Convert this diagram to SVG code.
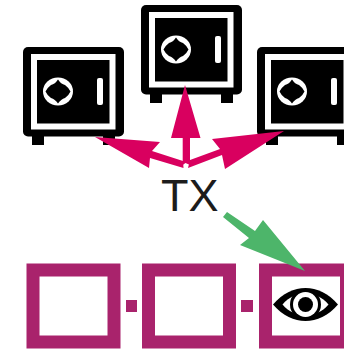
<svg xmlns="http://www.w3.org/2000/svg" width="344" height="350" viewBox="0 0 344 350">
<style>
.blk{fill:#000}
.wf{fill:#fff}
.pk{fill:#d9005f}
.cell{fill:none;stroke:#a9236c;stroke-width:13}
.dot{fill:#a9236c}
</style>
<defs>
<g id="safe">
<rect class="blk" x="23" y="47" width="101" height="89.500" rx="5"/>
<rect class="blk" x="32" y="134" width="12" height="11"/>
<rect class="blk" x="103" y="134" width="12" height="11"/>
<rect x="34" y="57" width="78.500" height="69.500" fill="none" stroke="#fff" stroke-width="6"/>
<ellipse class="wf" cx="58" cy="91.500" rx="15" ry="14"/>
<path class="blk" d="M58 79.500Q61 84 65 85Q69 88 70.500 91.500Q69 95 65 98Q61 99 58 103.500Q55 99 51 98Q47 95 45.500 91.500Q47 88 51 85Q55 84 58 79.500Z"/>
<rect class="wf" x="97" y="78" width="6" height="27" rx="2"/>
</g>
</defs>
<g id="safe-1"><use href="#safe"/></g>
<g id="safe-2"><use href="#safe" x="118" y="-42"/></g>
<g id="safe-3"><use href="#safe" x="234"/></g>
<g id="tx"><text x="161" y="210.500" font-family="'Liberation Sans',Arial,sans-serif" font-size="45" fill="#1c1c1c">TX</text></g>
<g id="block-1"><rect class="cell" x="33" y="270" width="81" height="72"/></g>
<rect id="link-1" class="dot" x="126" y="300" width="11" height="12"/>
<g id="block-2"><rect class="cell" x="148.500" y="270" width="81" height="72"/></g>
<rect id="link-2" class="dot" x="241" y="300" width="12" height="12"/>
<g id="block-3"><rect class="cell" x="265.500" y="270" width="81" height="72"/></g>
<g id="eye">
<path class="blk" d="M273 304.500C283 293 294 288 305.500 288C317 288 328 293 338 304.500C328 316 317 321 305.500 321C294 321 283 316 273 304.500Z"/>
<path class="wf" d="M282.500 304.500C289 297 297 293.500 305.500 293.500C314 293.500 322 297 328.500 304.500C322 312 314 315.500 305.500 315.500C297 315.500 289 312 282.500 304.500Z"/>
<circle class="blk" cx="305.500" cy="304.500" r="15.500"/>
<circle class="wf" cx="305.500" cy="304.500" r="12.500"/>
<circle class="blk" cx="305.500" cy="304.500" r="7.500"/>
</g>
<g id="connectors">
<polygon class="pk" points="95,137 160,142 152,151 183,161 183.500,168 150,158 149,168"/>
<polygon class="pk" points="185,85 200.500,138 190,138 190,165 185.500,163 182.700,165 182.700,138 171,138"/>
<polygon class="pk" points="284,131 212,139 220,149 190,160 188,168 222,155 225,169"/>
<polygon fill="#4db56a" points="227,212 255,231 263,220 305,271 240,245 249,238 223,217"/>
</g>
</svg>
